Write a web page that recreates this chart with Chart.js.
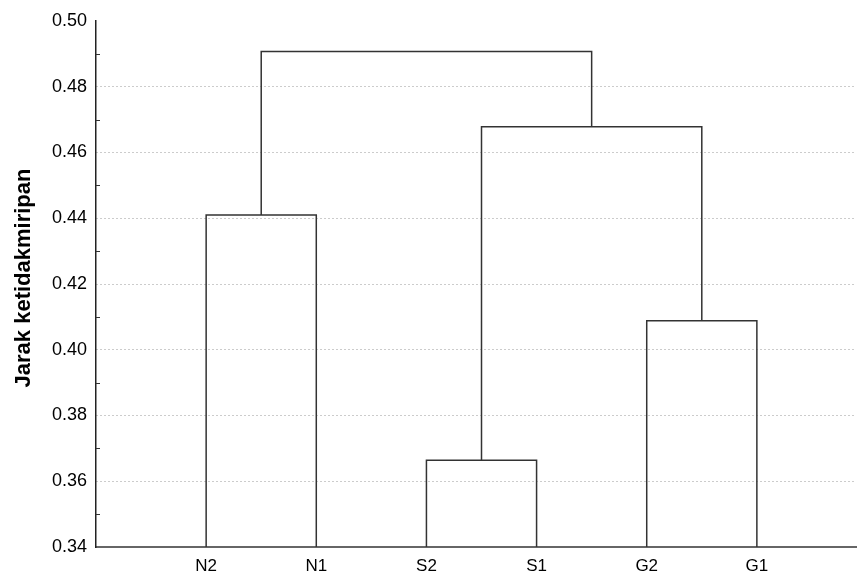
<!DOCTYPE html>
<html>
<head>
<meta charset="utf-8">
<script src="https://cdn.jsdelivr.net/npm/chart.js"></script>
<style>
  body { margin:0; background:#fff; }
  canvas { display:block; }
</style>
</head>
<body>
<canvas id="dendro" width="861" height="576"></canvas>
<script>
// leaves in plotting order, left to right
const leafLabels = ["N2", "N1", "S2", "S1", "G2", "G1"];
// merges: index 0-5 = leaves, 6+ = clusters formed by the merges below (in order)
const mergeLeft   = [0, 2, 4, 7, 6];
const mergeRight  = [1, 3, 5, 8, 9];
const mergeHeight = [0.441, 0.3664, 0.4088, 0.4678, 0.4907];
const yTicks = [0.34, 0.36, 0.38, 0.40, 0.42, 0.44, 0.46, 0.48, 0.50];

const yMin = 0.34, yMax = 0.50;
const FONT = "'Liberation Sans', Arial, sans-serif";

// node positions (x) and heights (y)
const nodeX = leafLabels.map((_, i) => i + 1);
const nodeY = leafLabels.map(() => yMin);
const datasets = [];
mergeHeight.forEach((h, k) => {
  const a = mergeLeft[k], b = mergeRight[k];
  datasets.push({
    data: [
      { x: nodeX[a], y: nodeY[a] },
      { x: nodeX[a], y: h },
      { x: nodeX[b], y: h },
      { x: nodeX[b], y: nodeY[b] }
    ],
    showLine: true,
    borderColor: "#333",
    borderWidth: 1.5,
    pointRadius: 0,
    tension: 0
  });
  nodeX.push((nodeX[a] + nodeX[b]) / 2);
  nodeY.push(h);
});

// y title + minor ticks
const extras = {
  id: "extras",
  afterDraw(chart) {
    const ctx = chart.ctx, y = chart.scales.y, area = chart.chartArea;
    ctx.save();
    ctx.strokeStyle = "#333";
    ctx.lineWidth = 1;
    for (let i = 0; i < yTicks.length - 1; i++) {
      const v = (yTicks[i] + yTicks[i + 1]) / 2;
      const py = Math.round(y.getPixelForValue(v)) + 0.5;
      ctx.beginPath();
      ctx.moveTo(area.left, py);
      ctx.lineTo(area.left + 4, py);
      ctx.stroke();
    }
    ctx.translate(24, (area.top + area.bottom) / 2 - 6);
    ctx.rotate(-Math.PI / 2);
    ctx.fillStyle = "#000";
    ctx.font = "bold 22px " + FONT;
    ctx.textAlign = "center";
    ctx.textBaseline = "middle";
    ctx.fillText("Jarak ketidakmiripan", 0, 0);
    ctx.restore();
  }
};

new Chart(document.getElementById("dendro"), {
  type: "scatter",
  data: { datasets },
  options: {
    responsive: false,
    animation: false,
    layout: { padding: { top: 21, right: 5, left: 0, bottom: 0 } },
    plugins: { legend: { display: false }, tooltip: { enabled: false } },
    scales: {
      x: {
        type: "linear",
        min: 0,
        max: 6.9,
        afterBuildTicks: s => { s.ticks = leafLabels.map((_, i) => ({ value: i + 1 })); },
        afterFit: s => { s.height = 29; },
        grid: { display: false, drawTicks: false },
        border: { color: "#666", width: 2 },
        ticks: {
          autoSkip: false,
          maxRotation: 0,
          padding: 9,
          color: "#000",
          font: { family: FONT, size: 17 },
          callback: v => leafLabels[v - 1] || ""
        }
      },
      y: {
        min: yMin,
        max: yMax,
        afterBuildTicks: s => { s.ticks = yTicks.map(v => ({ value: v })); },
        afterFit: s => { s.width = 96; },
        grid: {
          drawTicks: false,
          color: c => (c.tick && (c.tick.value <= yMin + 1e-6 || c.tick.value >= yMax - 1e-6)) ? "rgba(0,0,0,0)" : "#999",
          lineWidth: 1
        },
        border: { color: "#222", width: 1.5, dash: [1, 3] },
        ticks: {
          padding: 9,
          color: "#000",
          font: { family: FONT, size: 18 },
          callback: v => Number(v).toFixed(2)
        }
      }
    }
  },
  plugins: [extras]
});
</script>
</body>
</html>
